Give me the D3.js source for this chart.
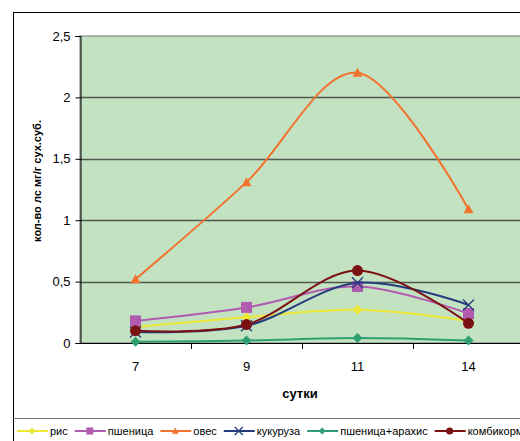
<!DOCTYPE html>
<html>
<head>
<meta charset="utf-8">
<script src="https://cdn.jsdelivr.net/npm/d3@7"></script>
<style>
  html, body { margin: 0; padding: 0; background: #fff; overflow: hidden; }
  svg { display: block; font-family: "Liberation Sans", Arial, sans-serif; }
</style>
</head>
<body>
<svg id="chart" width="520" height="441"></svg>
<script>
// Days of observation
const days = ["7", "9", "11", "14"];
// Amount per substrate, mg/g dry substance
const ris = [0.13, 0.21, 0.27, 0.18];
const pshenica = [0.18, 0.29, 0.46, 0.24];
const oves = [0.52, 1.31, 2.20, 1.09];
const kukuruza = [0.09, 0.14, 0.49, 0.31];
const pshenicaArahis = [0.01, 0.02, 0.04, 0.02];
const kombikorm = [0.10, 0.15, 0.59, 0.16];
const yTicks = [0, 0.5, 1, 1.5, 2, 2.5];

const series = [
  { name: "рис", values: ris, color: "#ede836", marker: "diamond" },
  { name: "пшеница", values: pshenica, color: "#b15cb0", marker: "square" },
  { name: "овес", values: oves, color: "#f3722e", marker: "triangle" },
  { name: "кукуруза", values: kukuruza, color: "#233d7f", marker: "cross" },
  { name: "пшеница+арахис", values: pshenicaArahis, color: "#2f9e72", marker: "diamond" },
  { name: "комбикорм", values: kombikorm, color: "#7b1113", marker: "circle" }
];

const svg = d3.select("#chart");
const plot = { left: 80, top: 36, bottom: 343, right: 524 };

const x = d3.scaleBand().domain(days).range([plot.left, plot.right]).padding(0);
const cx = d => x(d) + x.bandwidth() / 2;
const y = d3.scaleLinear().domain([0, 2.5]).range([plot.bottom, plot.top]);
const fmt = v => String(v).replace(".", ",");

// outer chart frame
svg.append("rect").attr("x", 13.5).attr("y", 12.5).attr("width", 520).attr("height", 440)
  .attr("fill", "none").attr("stroke", "#000").attr("stroke-width", 1);

// plot background
svg.append("rect").attr("x", plot.left).attr("y", plot.top)
  .attr("width", plot.right - plot.left).attr("height", plot.bottom - plot.top)
  .attr("fill", "#c3e2c1").attr("stroke", "#888").attr("stroke-width", 1.2);

// horizontal gridlines
svg.append("g").selectAll("line").data(yTicks.filter(v => v > 0 && v < 2.5)).join("line")
  .attr("x1", plot.left).attr("x2", plot.right)
  .attr("y1", d => Math.round(y(d)) + 0.5).attr("y2", d => Math.round(y(d)) + 0.5)
  .attr("stroke", "#4f5a4f").attr("stroke-width", 1.5);

// y axis
const yAxis = d3.axisLeft(y).tickValues(yTicks).tickFormat(fmt).tickSize(5).tickPadding(5);
const gy = svg.append("g").attr("transform", `translate(${plot.left + 0.5},0)`).call(yAxis);
gy.select(".domain").attr("stroke", "#000");
gy.selectAll(".tick line").attr("stroke", "#000");
gy.selectAll(".tick text").attr("font-size", 13).attr("fill", "#000")
  .attr("font-family", "Liberation Sans, Arial, sans-serif");

// x axis: labels at category centres, tick marks at category boundaries
const gx = svg.append("g");
gx.append("line").attr("x1", plot.left).attr("x2", plot.right)
  .attr("y1", plot.bottom + 0.5).attr("y2", plot.bottom + 0.5).attr("stroke", "#000");
gx.selectAll("line.tk").data(days.slice(1)).join("line").attr("class", "tk")
  .attr("x1", d => Math.round(x(d)) + 0.5).attr("x2", d => Math.round(x(d)) + 0.5)
  .attr("y1", plot.bottom).attr("y2", plot.bottom + 6).attr("stroke", "#000");
gx.selectAll("text").data(days).join("text")
  .attr("x", d => cx(d)).attr("y", 371).attr("text-anchor", "middle")
  .attr("font-size", 13).text(d => d);

// axis titles
svg.append("text").attr("x", 300).attr("y", 398).attr("text-anchor", "middle")
  .attr("font-size", 13).attr("font-weight", "bold").text("сутки");
svg.append("text").attr("transform", "translate(41,181) rotate(-90)")
  .attr("text-anchor", "middle").attr("font-size", 11).attr("font-weight", "bold")
  .text("кол-во лс мг/г сух.суб.");

// marker painter
function drawMarker(g, type, color, s) {
  if (type === "diamond") {
    g.append("path").attr("d", `M0,${-s}L${s},0L0,${s}L${-s},0Z`).attr("fill", color);
  } else if (type === "square") {
    g.append("rect").attr("x", -s).attr("y", -s).attr("width", 2 * s).attr("height", 2 * s).attr("fill", color);
  } else if (type === "triangle") {
    g.append("path").attr("d", `M0,${-s}L${s},${s * 0.8}L${-s},${s * 0.8}Z`).attr("fill", color);
  } else if (type === "cross") {
    g.append("path").attr("d", `M${-s},${-s}L${s},${s}M${-s},${s}L${s},${-s}`)
      .attr("stroke", color).attr("stroke-width", 1.3).attr("fill", "none");
  } else if (type === "circle") {
    g.append("circle").attr("r", s).attr("fill", color);
  }
}
const markerSize = { diamond: 5, square: 5.5, triangle: 5, cross: 5.5, circle: 5.5 };
const legendSize = { diamond: 3.5, square: 3.5, triangle: 3.5, cross: 4, circle: 3.5 };

// smoothed series lines and markers
const line = d3.line().x(d => cx(d.day)).y(d => y(d.v)).curve(d3.curveCatmullRom.alpha(0));
const gs = svg.append("g");
series.forEach(s => {
  const pts = days.map((d, i) => ({ day: d, v: s.values[i] }));
  const g = gs.append("g");
  g.append("path").datum(pts).attr("d", line).attr("fill", "none")
    .attr("stroke", s.color).attr("stroke-width", 2);
  pts.forEach(p => {
    const m = g.append("g").attr("transform", `translate(${cx(p.day)},${y(p.v)})`);
    drawMarker(m, s.marker, s.color, markerSize[s.marker]);
  });
});

// legend (the row runs past the right edge of the frame)
svg.append("line").attr("x1", 13).attr("x2", 520).attr("y1", 418.5).attr("y2", 418.5)
  .attr("stroke", "#777").attr("stroke-width", 1.2);
const lg = svg.append("g");
let lx = 17;
const ly = 431;
series.forEach(s => {
  const item = lg.append("g");
  item.append("line").attr("x1", lx).attr("x2", lx + 31).attr("y1", ly).attr("y2", ly)
    .attr("stroke", s.color).attr("stroke-width", 2);
  const m = item.append("g").attr("transform", `translate(${lx + 15},${ly})`);
  drawMarker(m, s.marker, s.color, legendSize[s.marker]);
  const t = item.append("text").attr("x", lx + 33).attr("y", ly + 4)
    .attr("font-size", 11).attr("fill", "#000").text(s.name);
  lx += 33 + t.node().getComputedTextLength() + 7;
});
</script>
</body>
</html>
